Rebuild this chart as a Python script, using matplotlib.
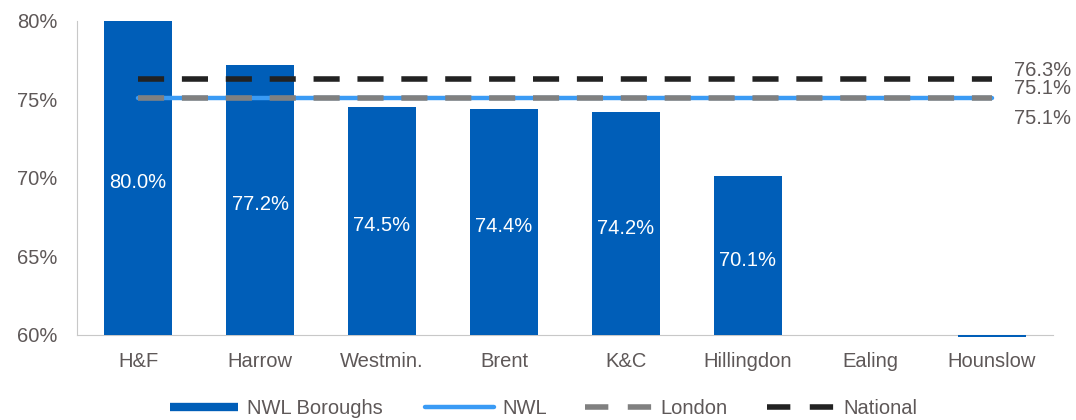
import matplotlib.pyplot as plt
from matplotlib.lines import Line2D

plt.rcParams['font.family'] = ['Liberation Sans', 'DejaVu Sans']

boroughs = ["H&F", "Harrow", "Westmin.", "Brent", "K&C", "Hillingdon", "Ealing", "Hounslow"]
values = [80.0, 77.2, 74.5, 74.4, 74.2, 70.1, None, 59.85]
bar_labels = ["80.0%", "77.2%", "74.5%", "74.4%", "74.2%", "70.1%", "", ""]
nwl = 75.1
london = 75.1
national = 76.3

bar_col = "#005EB8"
nwl_col = "#3A9BF5"
london_col = "#808080"
nat_col = "#222222"
txt_col = "#5E5858"
fs = 14.5

fig = plt.figure(figsize=(10.76, 4.2), dpi=100)
ax = fig.add_axes([0.0716, 0.195, 0.907, 0.755])

ymin = 59.8
base = 60
x = list(range(len(boroughs)))
for i, v in enumerate(values):
    if v is None:
        continue
    ax.bar(i, v - base, bottom=base, width=0.56, color=bar_col, zorder=2, clip_on=False)
    if bar_labels[i]:
        ax.annotate(bar_labels[i], (i, (base + v) / 2), xytext=(0, -2), textcoords="offset points",
                    ha="center", va="center_baseline", color="white", fontsize=fs, zorder=3)

ax.plot([x[0], x[-1]], [nwl, nwl], color=nwl_col, lw=3.2, solid_capstyle="round", zorder=4)
ax.plot([x[0], x[-1]], [london, london], color=london_col, lw=4, dashes=(4.7, 3.2), zorder=5)
ax.plot([x[0], x[-1]], [national, national], color=nat_col, lw=4, dashes=(4.7, 3.2), zorder=5)

ax.annotate("76.3%", (x[-1], national), xytext=(16, 6), textcoords="offset points",
            ha="left", va="center", fontsize=fs, color=txt_col)
ax.annotate("75.1%", (x[-1], london), xytext=(16, 6.5), textcoords="offset points",
            ha="left", va="center", fontsize=fs, color=txt_col)
ax.annotate("75.1%", (x[-1], nwl), xytext=(16, -15), textcoords="offset points",
            ha="left", va="center", fontsize=fs, color=txt_col)

ax.set_xlim(-0.5, len(boroughs) - 0.5)
ax.set_ylim(ymin, 80)
ax.set_yticks([60, 65, 70, 75, 80])
ax.set_yticklabels(["60%", "65%", "70%", "75%", "80%"])
ax.set_xticks(x)
ax.set_xticklabels(boroughs)
ax.tick_params(length=0, labelsize=fs, labelcolor=txt_col)
ax.tick_params(axis="y", pad=14)
ax.tick_params(axis="x", pad=12)
for s in ["top", "right"]:
    ax.spines[s].set_visible(False)
ax.spines["bottom"].set_position(("data", 60))
ax.spines["bottom"].set_color("#C8C8C8")
ax.spines["bottom"].set_zorder(1)
ax.spines["left"].set_color("#C8C8C8")
ax.spines["left"].set_bounds(60, 80)

# legend: one entry per box, placed like the original
entries = [
    (Line2D([], [], color=bar_col, lw=6, solid_capstyle="butt"), "NWL Boroughs", 170, 3.4),
    (Line2D([], [], color=nwl_col, lw=3.2, solid_capstyle="round"), "NWL", 425, 3.45),
    (Line2D([], [], color=london_col, lw=4, dashes=(4.2, 3.5)), "London", 585, 3.35),
    (Line2D([], [], color=nat_col, lw=4, dashes=(4.2, 3.5)), "National", 767, 3.4),
]
for h, lab, px, hl in entries:
    leg = fig.legend([h], [lab], loc="center left", bbox_to_anchor=(px / 1076, 0.028),
                     frameon=False, fontsize=fs, handlelength=hl, handletextpad=0.4,
                     borderpad=0, borderaxespad=0, labelcolor=txt_col)

fig.savefig("out.png", dpi=100)
